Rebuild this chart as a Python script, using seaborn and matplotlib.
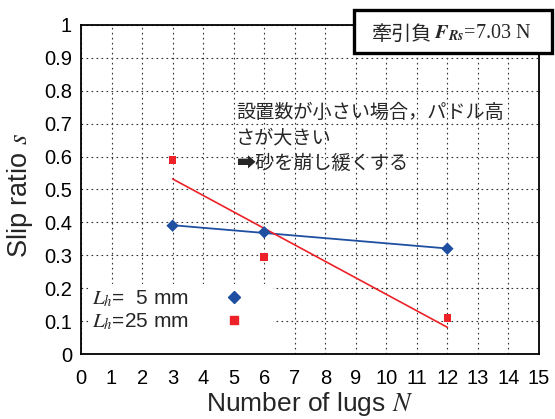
import numpy as np
import pandas as pd
import matplotlib
matplotlib.use("Agg")
import matplotlib.pyplot as plt
import seaborn as sns
from matplotlib.lines import Line2D
from matplotlib.patches import Rectangle

# ---- data ----
lugs = [3, 6, 12]
slip_5mm = [0.39, 0.37, 0.32]
slip_25mm = [0.59, 0.295, 0.11]
series_labels = ["$L_h$=  5 mm", "$L_h$=25 mm"]
x_ticks = list(range(0, 16))
y_ticks = [0, 0.1, 0.2, 0.3, 0.4, 0.5, 0.6, 0.7, 0.8, 0.9, 1]
y_tick_labels = ["0", "0.1", "0.2", "0.3", "0.4", "0.5", "0.6", "0.7", "0.8", "0.9", "1"]
title_jp = "牽引負"
title_val = "$\\mathbfit{F}_{\\mathbfit{Rs}}$=7.03 N"
note_text = "設置数が小さい場合，パドル高\nさが大きい\n➡砂を崩し緩くする"

BLUE = "#1f4fa0"
RED = "#ec2228"

sns.set_theme(style="white")
plt.rcParams["font.family"] = ["Liberation Sans", "Noto Sans CJK JP", "DejaVu Sans"]
plt.rcParams["mathtext.fontset"] = "stix"

df = pd.DataFrame({"N": lugs * 2,
                   "s": slip_5mm + slip_25mm,
                   "Lh": [series_labels[0]] * 3 + [series_labels[1]] * 3})

W, H = 555, 419
AX_L, AX_R, AX_T, AX_B = 81, 539, 25, 354
aw, ah = AX_R - AX_L, AX_B - AX_T
fig = plt.figure(figsize=(5.55, 4.19), dpi=100)
ax = fig.add_axes([AX_L / W, 1 - AX_B / H, aw / W, ah / H])

# regression lines
sns.regplot(x=lugs, y=slip_5mm, ax=ax, scatter=False, ci=None, truncate=True,
            line_kws=dict(color=BLUE, lw=1.3, zorder=4))
sns.regplot(x=lugs, y=slip_25mm, ax=ax, scatter=False, ci=None, truncate=True,
            line_kws=dict(color=RED, lw=1.2, zorder=4))

sns.scatterplot(data=df, x="N", y="s", hue="Lh", style="Lh",
                palette=[BLUE, RED], markers=["D", "s"], size="Lh",
                sizes=[40, 30], edgecolor="none", ax=ax, legend=False,
                zorder=5)

ax.set_xlim(0, 15)
ax.set_ylim(0, 1)
ax.set_xticks(x_ticks)
ax.set_yticks(y_ticks)
ax.set_yticklabels(y_tick_labels)
ax.grid(True, linestyle=(0, (1.5, 3)), color="#333333", lw=0.8, zorder=1)
ax.set_axisbelow(True)
ax.tick_params(direction="in", length=3, width=0.8, labelsize=14.5,
               colors="black")
ax.tick_params(axis="x", pad=10.5)
ax.tick_params(axis="y", pad=6.5)
for sp in ax.spines.values():
    sp.set_color("black")
    sp.set_linewidth(1.3)
    sp.set_zorder(6)

ax.set_xlabel("Number of lugs $N$", fontsize=19, labelpad=2)
ax.set_ylabel("Slip ratio $s$", fontsize=19.5)
ax.yaxis.set_label_coords(-0.10, (AX_B - 196) / ah)

# white area behind the legend (masks the grid)
ax.add_patch(Rectangle((7 / aw, 0), 185 / aw, 70 / ah, transform=ax.transAxes,
                       facecolor="white", edgecolor="none", zorder=2))

handles = [Line2D([], [], ls="none", marker="D", color=BLUE, ms=6.5),
           Line2D([], [], ls="none", marker="s", color=RED, ms=5.3)]
leg = ax.legend(handles, series_labels, loc="lower left",
                bbox_to_anchor=(11 / aw, 22 / ah), markerfirst=False,
                frameon=False, fontsize=15, handletextpad=1.65,
                handlelength=1.0, labelspacing=0.12, borderpad=0,
                borderaxespad=0)

ax.text(5.08, 0.765, note_text, fontsize=13.8, va="top", ha="left",
        linespacing=1.28, family=["Noto Sans CJK JP", "DejaVu Sans"], zorder=3)

# title box
fig.patches.append(Rectangle((354 / W, 1 - 53 / H), 198 / W, 43 / H,
                             transform=fig.transFigure, facecolor="white",
                             edgecolor="black", lw=2.4, zorder=10))
fig.text(372 / W, 1 - 34 / H, title_jp, ha="left", va="center",
         fontsize=14.5, family=["Noto Sans CJK JP"], zorder=11)
fig.text(434 / W, 1 - 33 / H, title_val, ha="left", va="center",
         fontsize=14.5, family=["Liberation Serif"], zorder=11)

fig.savefig("out.png", dpi=100)
